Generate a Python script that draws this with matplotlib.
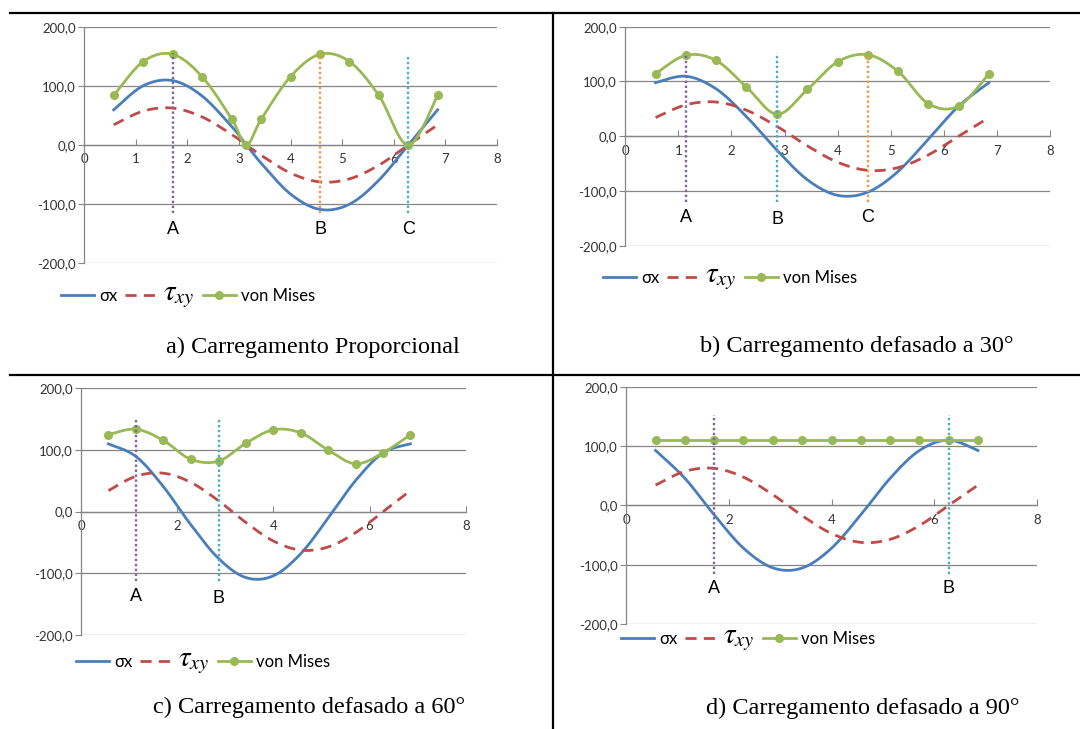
import numpy as np
import matplotlib.pyplot as plt
from matplotlib.lines import Line2D
from matplotlib.ticker import FuncFormatter, MultipleLocator

# pontos calculados (ângulo em rad)
x_pts = [0.57, 1.14, 1.71, 2.28, 2.86, 3.43, 4.00, 4.57, 5.14, 5.71, 6.28, 6.85]
x_pts_a = [0.57, 1.14, 1.71, 2.28, 2.86, 3.14, 3.43, 4.00, 4.57, 5.14, 5.71, 6.28, 6.85]

# a) proporcional
sx_a = [59.5, 100.1, 108.9, 83.1, 31.0, 0.0, -31.0, -83.1, -108.9, -100.1, -59.5, 0.0, 59.5]
txy_a = [34.1, 57.3, 62.4, 47.6, 17.7, 0.0, -17.7, -47.6, -62.4, -57.3, -34.1, 0.0, 34.1]
vm_a = [83.8, 141.0, 153.4, 115.8, 43.6, 0.0, 43.6, 115.8, 153.4, 141.0, 83.8, 0.0, 83.8]

# tensão cisalhante (igual nos casos defasados)
txy = [34.1, 57.3, 62.4, 47.6, 17.7, -17.7, -47.6, -62.4, -57.3, -34.1, 0.0, 34.1]

# b) 30°
sx_b = [97.8, 109.5, 86.5, 36.0, -25.9, -79.6, -108.0, -102.1, -64.2, -5.2, 55.0, 97.8]
vm_b = [114.2, 147.8, 138.4, 90.0, 40.1, 85.3, 135.9, 148.7, 118.2, 59.3, 55.0, 114.2]

# c) 60°
sx_c = [109.9, 89.6, 40.9, -20.8, -75.9, -106.9, -104.0, -68.1, -10.5, 50.4, 95.3, 109.9]
vm_c = [124.8, 133.7, 115.6, 85.0, 81.9, 111.2, 132.7, 127.7, 99.8, 77.6, 95.3, 124.8]

# d) 90°
sx_d = [92.5, 45.7, -15.7, -72.0, -105.5, -105.5, -72.0, -15.7, 45.7, 92.5, 110.0, 92.5]
vm_d = [110.0, 110.0, 110.0, 110.0, 110.0, 110.0, 110.0, 110.0, 110.0, 110.0, 110.0, 110.0]

# instantes marcados: (posição, rótulo, cor, y inferior, y superior, y do rótulo)
marcas_a = [(1.71, 'A', '#8064A2', -115, 155, -143), (4.57, 'B', '#F79646', -115, 155, -143),
            (6.28, 'C', '#4BACC6', -115, 152, -143)]
marcas_b = [(1.14, 'A', '#8064A2', -120, 152, -148), (2.86, 'B', '#4BACC6', -120, 152, -153),
            (4.57, 'C', '#F79646', -120, 152, -148)]
marcas_c = [(1.14, 'A', '#8064A2', -112, 151, -138), (2.86, 'B', '#4BACC6', -112, 151, -141)]
marcas_d = [(1.71, 'A', '#8064A2', -116, 152, -140), (6.28, 'B', '#4BACC6', -116, 152, -140)]

AZUL = '#4A7EBB'
VERMELHO = '#BE4B48'
VERDE = '#98B954'
CINZA = '#868686'


def suavizar(xs, ys, n=30):
    """Curva suavizada tipo Excel (Bezier a partir de Catmull-Rom)."""
    p = np.column_stack([xs, ys]).astype(float)
    ext = np.vstack([p[0], p, p[-1]])
    t = np.linspace(0, 1, n)[1:, None]
    out = [p[:1]]
    for i in range(len(p) - 1):
        p0, p3 = ext[i + 1], ext[i + 2]
        c1 = p0 + (ext[i + 2] - ext[i]) / 6
        c2 = p3 - (ext[i + 3] - ext[i + 1]) / 6
        out.append((1 - t) ** 3 * p0 + 3 * (1 - t) ** 2 * t * c1
                   + 3 * (1 - t) * t ** 2 * c2 + t ** 3 * p3)
    c = np.vstack(out)
    return c[:, 0], c[:, 1]


def grafico(ax, x, sx, tx, vm, marcas, passo_x):
    ax.plot(*suavizar(x, sx), color=AZUL, lw=2, zorder=3)
    ax.plot(*suavizar(x, tx), color=VERMELHO, lw=2, dashes=(4, 2.6), zorder=3)
    ax.plot(*suavizar(x, vm), color=VERDE, lw=2, zorder=4)
    ax.plot(x, vm, 'o', color=VERDE, ms=5.5, zorder=4)
    for xm, rot, cor, y0, y1, yr in marcas:
        ax.plot([xm, xm], [y0, y1], color=cor, lw=1.7, ls=(0, (1, 1.1)), zorder=5)
        ax.text(xm, yr, rot, ha='center', va='center', fontsize=13,
                family='Liberation Sans', color='black')

    ax.set_xlim(0, 8)
    ax.set_ylim(-200, 200)
    ax.xaxis.set_major_locator(MultipleLocator(passo_x))
    ax.yaxis.set_major_locator(MultipleLocator(100))
    ax.yaxis.set_major_formatter(FuncFormatter(lambda v, p: f'{v:.1f}'.replace('.', ',')))
    ax.grid(axis='y', color=CINZA, lw=0.9)
    ax.set_axisbelow(True)
    for lado in ('top', 'right'):
        ax.spines[lado].set_visible(False)
    ax.spines['bottom'].set_position(('data', 0))
    ax.spines['bottom'].set_color(CINZA)
    ax.spines['left'].set_color(CINZA)
    ax.spines['bottom'].set_linewidth(0.9)
    ax.spines['left'].set_linewidth(0.9)
    ax.tick_params(axis='x', direction='in', length=4, color=CINZA, pad=6,
                   labelsize=9.5, labelcolor='#333333')
    ax.tick_params(axis='y', direction='out', length=4, color=CINZA, pad=2,
                   labelsize=9.5, labelcolor='#333333')
    for lab in ax.get_xticklabels() + ax.get_yticklabels():
        lab.set_family('Lato')
    ax.set_facecolor('none')


fig = plt.figure(figsize=(10.8, 7.29), dpi=100)
H, W = 729.0, 1080.0

paineis = [
    ((84.3, 26.7, 497.0, 263.3), x_pts_a, sx_a, txy_a, vm_a, marcas_a, 1, (61, 295),
     'a) Carregamento Proporcional', (313, 347)),
    ((625.3, 26.7, 1050.0, 245.7), x_pts, sx_b, txy, vm_b, marcas_b, 1, (603, 277),
     'b) Carregamento defasado a 30°', (857, 346)),
    ((81.0, 388.3, 465.7, 635.0), x_pts, sx_c, txy, vm_c, marcas_c, 2, (76, 661),
     'c) Carregamento defasado a 60°', (309, 707)),
    ((626.3, 386.7, 1037.0, 624.0), x_pts, sx_d, txy, vm_d, marcas_d, 2, (621, 638),
     'd) Carregamento defasado a 90°', (863, 708)),
]

handles = [
    Line2D([], [], color=AZUL, lw=2),
    Line2D([], [], color=VERMELHO, lw=2, dashes=(4, 2.6)),
    Line2D([], [], color=VERDE, lw=2, marker='o', ms=5.5),
]
rotulos = ['σx', r'$\tau_{xy}$', 'von Mises']

plt.rcParams['mathtext.fontset'] = 'stix'

for (l, t, r, b), x, sx, tx, vm, marcas, passo, (lx, ly), titulo, (tx_, ty_) in paineis:
    ax = fig.add_axes([l / W, 1 - b / H, (r - l) / W, (b - t) / H])
    grafico(ax, x, sx, tx, vm, marcas, passo)
    leg = fig.legend(handles, rotulos, loc='center left',
                     bbox_to_anchor=(lx / W, 1 - ly / H), ncol=3, frameon=False,
                     borderpad=0, borderaxespad=0, handlelength=2.0,
                     handletextpad=0.3, columnspacing=0.45,
                     prop={'family': 'Lato', 'size': 12})
    leg.get_texts()[1].set_fontsize(21)
    fig.text(tx_ / W, 1 - ty_ / H, titulo, ha='center', va='center',
             fontsize=17.5, family='Liberation Serif')

# linhas da tabela
y_top = 1 - 12.7 / H
y_mid = 1 - 374.7 / H
fig.add_artist(Line2D([10 / W, 1], [y_top, y_top], color='black', lw=1.6))
fig.add_artist(Line2D([10 / W, 1], [y_mid, y_mid], color='black', lw=1.6))
fig.add_artist(Line2D([552.7 / W, 552.7 / W], [0, y_top], color='black', lw=1.6))

fig.savefig('out.png', dpi=100)
